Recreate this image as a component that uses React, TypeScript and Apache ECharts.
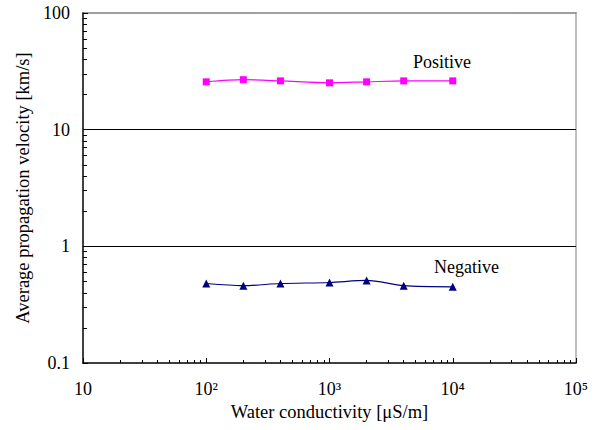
import React, { useEffect, useRef } from "react";
import * as echarts from "echarts";

const conductivity = [100, 200, 400, 1000, 2000, 4000, 10000];
const positive = [25.7, 26.8, 26.2, 25.2, 25.7, 26.2, 26.2];
const negative = [0.48, 0.46, 0.48, 0.49, 0.51, 0.46, 0.45];
const xTickLabels: Record<number, string> = { 10: "10", 100: "10²", 1000: "10³", 10000: "10⁴", 100000: "10⁵" };
const yTickLabels: Record<number, string> = { 0.1: "0.1", 1: "1", 10: "10", 100: "100" };

const FONT = "'Liberation Serif', 'Times New Roman', serif";

export default function App() {
  const ref = useRef<HTMLDivElement>(null);
  useEffect(() => {
    if (!ref.current) return;
    const chart = echarts.init(ref.current, undefined, { renderer: "svg" });
    chart.setOption({
      animation: false,
      backgroundColor: "#fff",
      grid: { left: 83, right: 22, top: 13, bottom: 67 },
      xAxis: [
        {
          type: "log",
          logBase: 10,
          min: 10,
          max: 100000,
          name: "Water conductivity [μS/m]",
          nameLocation: "middle",
          nameGap: 39,
          nameTextStyle: { fontFamily: FONT, fontSize: 18.5, color: "#000" },
          axisLine: { lineStyle: { color: "#000", width: 1.5 } },
          axisTick: { inside: true, length: 5, lineStyle: { color: "#000" } },
          minorTick: { show: true, splitNumber: 9, length: 3, lineStyle: { color: "#000" } },
          splitLine: { show: false },
          axisLabel: {
            fontFamily: FONT,
            fontSize: 18,
            color: "#000",
            margin: 17,
            formatter: (v: number) => xTickLabels[Math.round(v)] ?? "",
          },
          z: 5,
        },
        {
          type: "log",
          logBase: 10,
          min: 10,
          max: 100000,
          position: "top",
          axisLine: { lineStyle: { color: "#808080", width: 1.5 } },
          axisTick: { show: false },
          axisLabel: { show: false },
          splitLine: { show: false },
        },
      ],
      yAxis: [
        {
          type: "log",
          logBase: 10,
          min: 0.1,
          max: 100,
          name: "Average propagation velocity [km/s]",
          nameLocation: "middle",
          nameGap: 44,
          nameTextStyle: { fontFamily: FONT, fontSize: 18.5, color: "#000" },
          axisLine: { lineStyle: { color: "#000", width: 1.5 } },
          axisTick: { inside: true, length: 5, lineStyle: { color: "#000" } },
          minorTick: { show: true, splitNumber: 9, length: 4, lineStyle: { color: "#000" } },
          splitLine: { show: true, showMinLine: false, showMaxLine: false, lineStyle: { color: "#000", width: 1 } },
          axisLabel: {
            fontFamily: FONT,
            fontSize: 18,
            color: "#000",
            margin: 13,
            formatter: (v: number) => {
              const k = Number(v.toPrecision(3));
              return yTickLabels[k] ?? "";
            },
          },
          z: 5,
        },
        {
          type: "log",
          logBase: 10,
          min: 0.1,
          max: 100,
          position: "right",
          axisLine: { show: true, lineStyle: { color: "#c0c0c0", width: 2 } },
          axisTick: { show: false },
          axisLabel: { show: false },
          splitLine: { show: false },
        },
      ],
      series: [
        {
          name: "Positive",
          type: "line",
          data: conductivity.map((x, i) => [x, positive[i]]),
          smooth: 0.3,
          symbol: "rect",
          symbolSize: 7,
          itemStyle: { color: "#ff00ff" },
          lineStyle: { color: "#ff00ff", width: 1.2 },
        },
        {
          name: "Negative",
          type: "line",
          data: conductivity.map((x, i) => [x, negative[i]]),
          smooth: 0.3,
          symbol: "triangle",
          symbolSize: 8,
          itemStyle: { color: "#000080" },
          lineStyle: { color: "#000080", width: 1.2 },
        },
      ],
      graphic: [
        { type: "text", left: 413, top: 53, style: { text: "Positive", font: `18px ${FONT}`, fill: "#000" } },
        { type: "text", left: 434, top: 258, style: { text: "Negative", font: `18px ${FONT}`, fill: "#000" } },
      ],
    });
    return () => chart.dispose();
  }, []);
  return <div ref={ref} style={{ position: "fixed", left: 0, top: 0, width: 598, height: 430 }} />;
}
